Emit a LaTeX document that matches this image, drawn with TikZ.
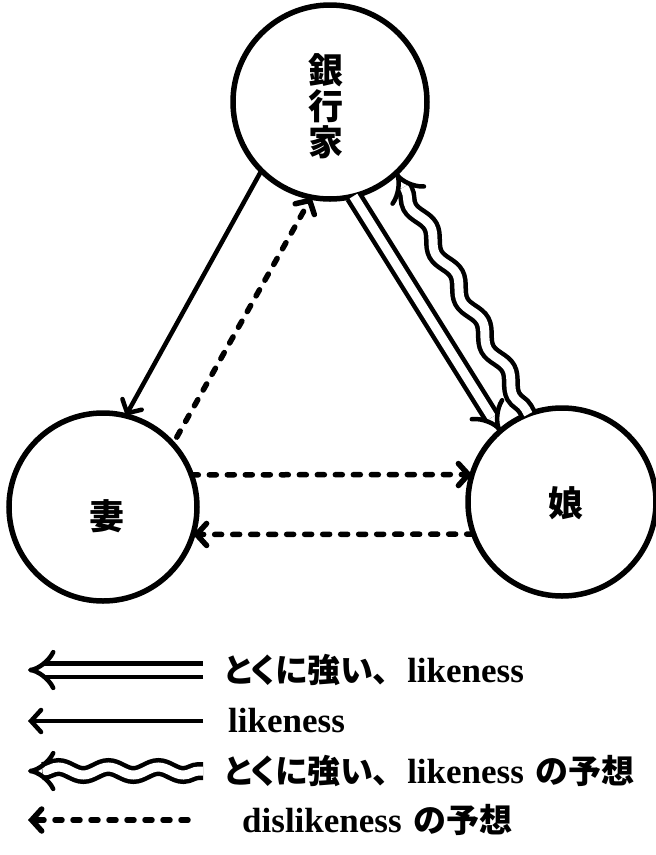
\documentclass[tikz,border=0pt]{standalone}
\usepackage{fontspec}
\setmainfont{Liberation Serif}
\newfontfamily\jp{Noto Sans CJK JP}[RawFeature=+palt]
\usetikzlibrary{arrows.meta,decorations.pathmorphing}
\begin{document}
\begin{tikzpicture}[x=1pt,y=-1pt,
  circ/.style={draw, circle, line width=5.5pt, inner sep=0pt, outer sep=0pt},
  jptext/.style={font=\jp\bfseries\fontsize{35}{36}\selectfont, inner sep=0pt, align=center},
  barb/.style={-{Straight Barb[length=10pt,width=22pt,line cap=round]}},
  solidarr/.style={line width=4.5pt, barb},
  dasharr/.style={line width=5.5pt, line cap=round, dash pattern=on 7pt off 11pt, barb},
  dblarr/.style={line width=4.5pt, double, double distance=9pt, -{Implies}},
  wavyarr/.style={dblarr, decorate, decoration={snake, amplitude=4.5pt, segment length=54pt, pre length=6pt, post length=16pt}},
  legtext/.style={font=\bfseries\fontsize{35}{37}\selectfont, anchor=west, inner sep=0pt}
]
\useasboundingbox (0,0) rectangle (656,855);
\newcommand{\lj}[1]{{\jp\fontsize{33}{35}\selectfont #1}}

% circles
\node[circ, minimum size=194pt] (T) at (330,102) {};
\node[circ, minimum size=188pt] (L) at (103,507) {};
\node[circ, minimum size=188pt] (R) at (562,502) {};

% labels
\node[jptext] (tlab) at (326,106) {銀\\行\\家};
\node[jptext] (llab) at (107,516) {妻};
\node[jptext] (rlab) at (566,503) {娘};

% connectors
\draw[solidarr] (T.225) -- (L.76);
\draw[dasharr, shorten <=8pt] (L.42) -- (T.259);
\draw[dblarr] (T.284) -- (R.131);
\draw[wavyarr] (R.111) -- (T.313);
\draw[dasharr] (L.20) -- (R.163);
\draw[dasharr] (R.200) -- (L.-17);

% legend
\coordinate (a1) at (203,670); \coordinate (b1) at (28,670);
\coordinate (a2) at (203,721); \coordinate (b2) at (28,721);
\coordinate (a3) at (203,771); \coordinate (b3) at (28,771);
\coordinate (a4) at (188,820); \coordinate (b4) at (28,820);
\draw[dblarr] (a1) -- (b1);
\draw[solidarr] (a2) -- (b2);
\draw[wavyarr, decoration={segment length=50pt, amplitude=4pt, pre length=4pt, post length=14pt}] (a3) -- (b3);
\draw[dasharr] (a4) -- (b4);

\node[legtext] (t1) at (224,670) {\lj{とくに強い、}\hspace{18pt}likeness};
\node[legtext] (t2) at (228,721) {likeness};
\node[legtext] (t3) at (224,771) {\lj{とくに強い、}\hspace{18pt}likeness\hspace{12pt}\lj{の予想}};
\node[legtext] (t4) at (242,820) {dislikeness\hspace{12pt}\lj{の予想}};
\end{tikzpicture}
\end{document}
